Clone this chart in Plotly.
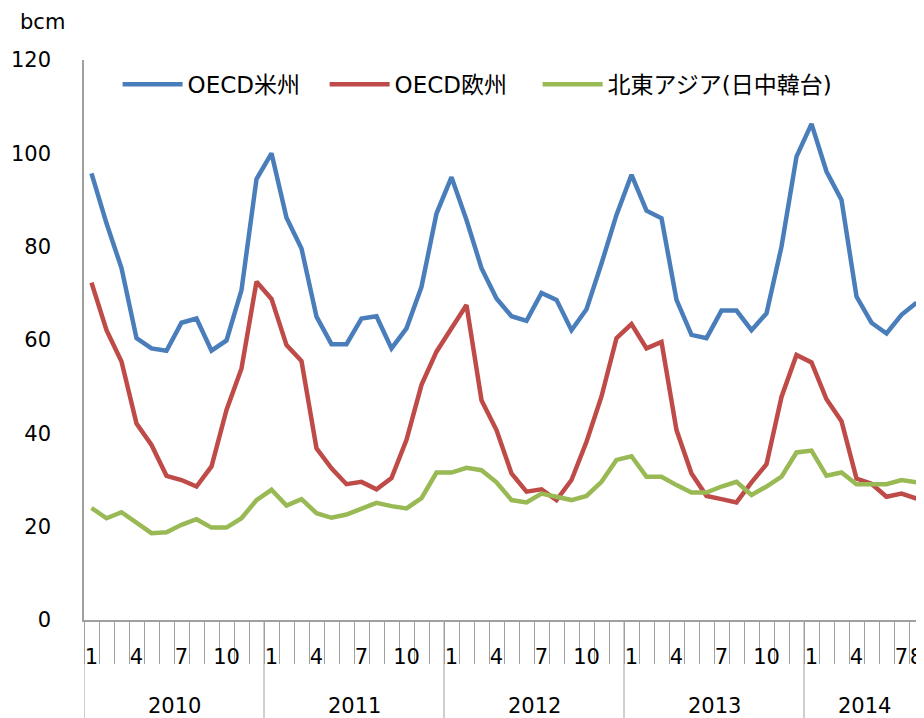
import plotly.graph_objects as go

years = [2010, 2011, 2012, 2013, 2014]
months_per_year = [12, 12, 12, 12, 8]
month_labels_shown = [1, 4, 7, 10]

series_names = ["OECD米州", "OECD欧州", "北東アジア(日中韓台)"]

oecd_americas = [95.7, 85.0, 75.4, 60.4, 58.2, 57.7, 63.7, 64.6, 57.7, 59.9, 70.7, 94.5,
                 100.0, 86.2, 79.6, 65.0, 59.1, 59.1, 64.6, 65.1, 58.2, 62.5, 71.4, 87.1,
                 94.9, 85.7, 75.4, 68.9, 65.1, 64.1, 70.1, 68.6, 62.1, 66.6, 76.4, 86.8,
                 95.4, 87.7, 86.1, 68.6, 61.1, 60.4, 66.3, 66.3, 62.1, 65.7, 80.0, 99.3,
                 106.3, 96.1, 90.0, 69.3, 63.7, 61.4, 65.4, 68.0]
oecd_europe = [72.3, 62.1, 55.4, 42.1, 37.5, 30.9, 30.0, 28.6, 32.9, 45.0, 53.9, 72.5,
               68.8, 58.9, 55.5, 36.8, 32.5, 29.1, 29.6, 28.0, 30.4, 38.6, 50.4, 57.5,
               62.5, 67.5, 47.1, 40.7, 31.4, 27.5, 28.0, 25.7, 30.0, 38.2, 47.9, 60.4,
               63.4, 58.2, 59.6, 40.7, 31.4, 26.6, 25.9, 25.2, 29.5, 33.4, 47.8, 56.8,
               55.2, 47.3, 42.6, 30.3, 29.2, 26.4, 27.1, 26.0]
ne_asia = [24.0, 21.8, 23.1, 20.7, 18.6, 18.8, 20.4, 21.6, 19.8, 19.8, 21.8, 25.7,
           27.9, 24.5, 25.9, 22.9, 21.9, 22.6, 23.9, 25.1, 24.4, 23.9, 26.1, 31.6,
           31.6, 32.6, 32.1, 29.5, 25.7, 25.2, 27.1, 26.5, 25.7, 26.6, 29.6, 34.3,
           35.1, 30.7, 30.7, 28.9, 27.3, 27.3, 28.6, 29.6, 26.8, 28.6, 30.7, 35.9,
           36.3, 30.9, 31.6, 29.1, 29.1, 29.1, 30.0, 29.5]

colors = ["#4A7EBB", "#BE4B48", "#98B954"]
legend_ids = ["legend", "legend", "legend2"]
FONT = "DejaVu Sans, Noto Sans CJK JP, sans-serif"
GRAY = "#A0A0A0"

# build category index
months = []
for y, n in zip(years, months_per_year):
    for m in range(1, n + 1):
        months.append(m)
idx = list(range(len(months)))
N = len(idx)

fig = go.Figure()
for name, vals, c, lg in zip(series_names, [oecd_americas, oecd_europe, ne_asia], colors, legend_ids):
    fig.add_trace(go.Scatter(x=idx, y=vals, mode="lines", name=name, legend=lg,
                             line=dict(color=c, width=4.5)))

tickvals = [i for i in idx if months[i] in month_labels_shown or i == N - 1]
ticktext = [str(months[i]) for i in tickvals]
boundaries = [i - 0.5 for i in idx] + [N - 0.5]

fig.update_xaxes(range=[-0.5, N - 0.5], showgrid=False, zeroline=False,
                 showline=True, linecolor=GRAY, linewidth=1.5,
                 tickmode="array", tickvals=tickvals, ticktext=ticktext,
                 ticks="", ticklabelstandoff=17, tickangle=0,
                 tickfont=dict(family=FONT, size=21, color="#000"),
                 minor=dict(tickmode="array", tickvals=boundaries, ticks="outside",
                            ticklen=42, tickcolor=GRAY, tickwidth=1))
fig.update_yaxes(range=[0, 120], dtick=20, showgrid=False, zeroline=False,
                 showline=True, linecolor=GRAY, linewidth=1.5, ticks="",
                 ticklabelstandoff=27,
                 tickfont=dict(family=FONT, size=21, color="#000"))

# year separators and labels
start = 0
for y, n in zip(years, months_per_year):
    fig.add_shape(type="line", xref="x", yref="paper", x0=start - 0.5, x1=start - 0.5,
                  y0=0, y1=-0.2, line=dict(color=GRAY, width=1))
    fig.add_annotation(xref="x", yref="paper", x=start + (n - 1) / 2, y=-0.153,
                       text=str(y), showarrow=False, xanchor="center", yanchor="middle",
                       font=dict(family=FONT, size=21, color="#000"))
    start += n

fig.add_annotation(xref="paper", yref="paper", x=-0.05, y=1.068, text="bcm",
                   showarrow=False, xanchor="center", yanchor="middle",
                   font=dict(family=FONT, size=21, color="#000"))

legend_font = dict(family=FONT, size=23, color="#000")
fig.update_layout(width=916, height=710, margin=dict(l=76, r=0, t=52, b=98),
                  paper_bgcolor="white", plot_bgcolor="white",
                  showlegend=True,
                  legend=dict(orientation="h", x=0.04, y=0.995, xanchor="left", yanchor="top",
                              font=legend_font, itemwidth=60, entrywidth=132,
                              entrywidthmode="pixels", bgcolor="rgba(0,0,0,0)"),
                  legend2=dict(orientation="h", x=0.54, y=0.995, xanchor="left", yanchor="top",
                               font=legend_font, itemwidth=60,
                               bgcolor="rgba(0,0,0,0)"))

fig.write_html("out.html")
